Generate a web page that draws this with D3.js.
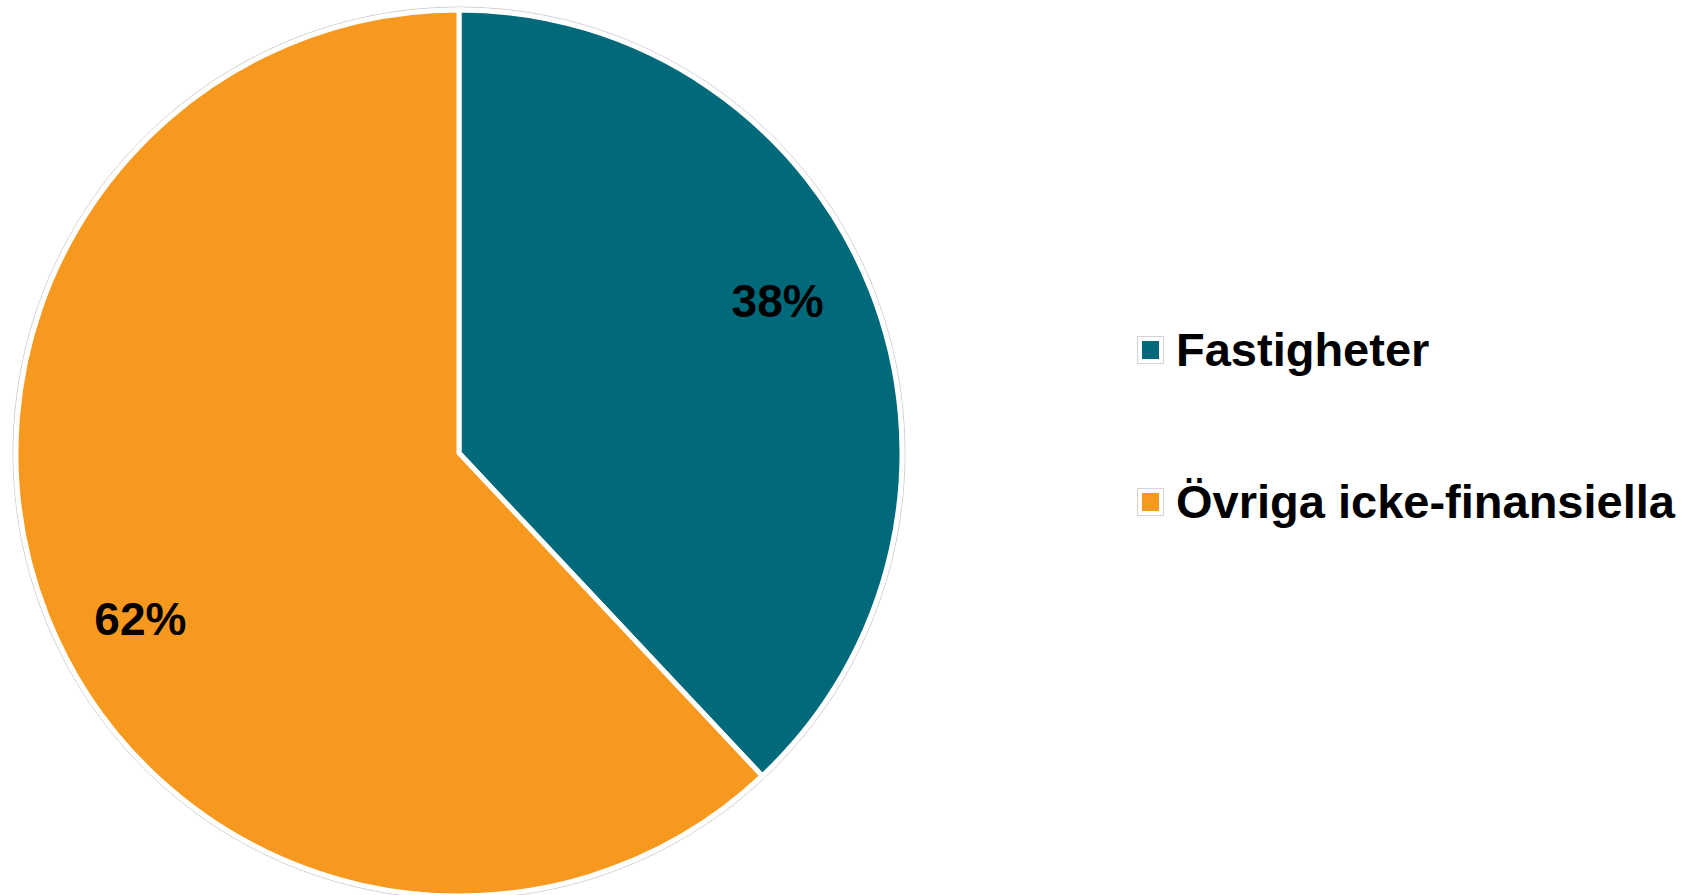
<!DOCTYPE html>
<html>
<head>
<meta charset="utf-8">
<script src="https://cdn.jsdelivr.net/npm/d3@7"></script>
<style>
  html, body { margin: 0; padding: 0; background: #fff; }
  svg { display: block; font-family: "Liberation Sans", Arial, sans-serif; }
</style>
</head>
<body>
<svg id="chart" width="1683" height="895"></svg>
<script>
// chart data
const categories = ['Fastigheter', 'Övriga icke-finansiella'];
const shares = [38, 62];
const sliceColors = ['#00697A', '#F7991F'];

const CX = 459;
const CY = 453;
const RADIUS = 443;
const LABEL_RADIUS = 356;
const LABEL_SHIFT = -4.9 * Math.PI / 180;

let svg = d3.select('#chart');

let color = d3.scaleOrdinal().domain(categories).range(sliceColors);

let pie = d3.pie().sort(null).value((d) => d.value);
let rows = categories.map((c, i) => ({ name: c, value: shares[i] }));
let arcs = pie(rows);

let arc = d3.arc().innerRadius(0).outerRadius(RADIUS);
let labelArc = d3.arc().innerRadius(LABEL_RADIUS).outerRadius(LABEL_RADIUS);

let g = svg.append('g').attr('transform', `translate(${CX},${CY})`);

// thin grey outline around the whole pie
g.append('circle')
  .attr('r', RADIUS + 3)
  .attr('fill', 'none')
  .attr('stroke', '#cfcfcf')
  .attr('stroke-width', 1);

g.selectAll('path.slice')
  .data(arcs)
  .enter()
  .append('path')
    .attr('class', 'slice')
    .attr('d', arc)
    .attr('fill', (d) => color(d.data.name))
    .attr('stroke', '#fff')
    .attr('stroke-width', 5)
    .attr('stroke-linejoin', 'miter');

// percentage labels
g.selectAll('text.pct')
  .data(arcs)
  .enter()
  .append('text')
    .attr('class', 'pct')
    .attr('transform', (d) => {
      let shifted = { startAngle: d.startAngle + LABEL_SHIFT, endAngle: d.endAngle + LABEL_SHIFT };
      let p = labelArc.centroid(shifted);
      return `translate(${p[0]},${p[1]})`;
    })
    .attr('dy', '0.5em')
    .attr('text-anchor', 'middle')
    .style('font-size', '46px')
    .style('font-weight', 'bold')
    .attr('fill', '#000')
    .text((d) => `${Math.round(d.data.value)}%`);

// legend
let legendY = d3.scalePoint().domain(categories).range([350, 502]);
let legend = svg.append('g').attr('transform', 'translate(1137,0)');

let item = legend.selectAll('g.item')
  .data(categories)
  .enter()
  .append('g')
    .attr('class', 'item')
    .attr('transform', (d) => `translate(0,${legendY(d)})`);

item.append('rect')
  .attr('x', 0.5)
  .attr('y', -13.5)
  .attr('width', 26)
  .attr('height', 27)
  .attr('fill', '#fff')
  .attr('stroke', '#d4d4d4')
  .attr('stroke-width', 1);

item.append('rect')
  .attr('x', 5)
  .attr('y', -9)
  .attr('width', 17)
  .attr('height', 18)
  .attr('fill', (d) => color(d));

item.append('text')
  .attr('x', 39)
  .attr('y', 16)
  .style('font-size', '47px')
  .style('font-weight', 'bold')
  .attr('fill', '#000')
  .text((d) => d);
</script>
</body>
</html>
